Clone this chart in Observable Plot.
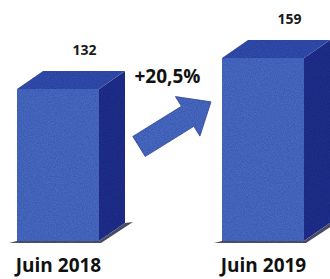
<!DOCTYPE html>
<html><head><meta charset="utf-8">
<script src="https://cdn.jsdelivr.net/npm/d3@7"></script>
<script src="https://cdn.jsdelivr.net/npm/@observablehq/plot@0.6"></script>
<style>body{margin:0;background:#fff;} #chart svg{display:block;}</style>
</head><body><div id="chart"></div>
<script>
const categories = ["Juin 2018", "Juin 2019"];
const values = [132, 159];
const valueLabels = ["132", "159"];
const changeLabel = "+20,5%";

const data = categories.map((c, i) => ({cat: c, value: values[i], label: valueLabels[i]}));

const DX = 26, DY = 18;
const colors = {front: "#4262b9", top: "#2d47a5", side: "#1c2b85", shadow: "#151a48", arrowEdge: "#2c419a"};
const NS = "http://www.w3.org/2000/svg";

function el(name, attrs) {
  const e = document.createElementNS(NS, name);
  for (const k in attrs) e.setAttribute(k, attrs[k]);
  return e;
}
function pts(a) { return a.map(p => p.join(",")).join(" "); }

function box3d(index, scales, vals, dimensions, context, next) {
  const g = next(index, scales, vals, dimensions, context);
  const rects = Array.from(g.querySelectorAll("rect"));
  const wrap = el("g", {});
  const defs = el("defs", {});
  const f = el("filter", {id: "grain", x: "0", y: "0", width: "100%", height: "100%"});
  f.appendChild(el("feTurbulence", {type: "fractalNoise", baseFrequency: "0.85", numOctaves: "2", seed: "4", result: "n"}));
  f.appendChild(el("feColorMatrix", {in: "n", type: "saturate", values: "0", result: "g"}));
  const ct = el("feComponentTransfer", {in: "g", result: "g2"});
  ct.appendChild(el("feFuncA", {type: "linear", slope: "0", intercept: "0.45"}));
  f.appendChild(ct);
  f.appendChild(el("feComposite", {in: "g2", in2: "SourceGraphic", operator: "in", result: "ng"}));
  f.appendChild(el("feBlend", {in: "ng", in2: "SourceGraphic", mode: "overlay"}));
  defs.appendChild(f);
  wrap.appendChild(defs);
  wrap.appendChild(g);
  g.setAttribute("filter", "url(#grain)");
  const geo = rects.map(r => {
    const x = +r.getAttribute("x"), y = +r.getAttribute("y");
    const w = +r.getAttribute("width"), h = +r.getAttribute("height");
    return {r, xl: x, xr: x + w, yt: y, yb: y + h};
  });
  for (const b of geo) {
    const {r, xl, xr, yt, yb} = b;
    g.insertBefore(el("polygon", {fill: colors.shadow, "fill-opacity": 0.85,
      points: pts([[xl - 8, yb + 2], [xr + 2, yb + 2], [xr + DX + 8, yb - DY - 1], [xr + DX, yb - DY], [xr, yb], [xl, yb]])}), r);
    g.appendChild(el("polygon", {fill: colors.top,
      points: pts([[xl, yt], [xl + DX, yt - DY], [xr + DX, yt - DY], [xr, yt]])}));
    g.appendChild(el("polygon", {fill: colors.side,
      points: pts([[xr, yt], [xr + DX, yt - DY], [xr + DX, yb - DY], [xr, yb]])}));
  }
  if (geo.length >= 2) {
    const a = geo[0], b = geo[1];
    const tail = [a.xr + DX + 14, a.yt + 0.378 * (a.yb - a.yt)];
    const tip = [b.xl - 11, b.yt + 0.24 * (b.yb - b.yt)];
    const vx = tip[0] - tail[0], vy = tip[1] - tail[1];
    const L = Math.hypot(vx, vy);
    const u = [vx / L, vy / L], n = [-u[1], u[0]];
    const sw = 11.8, hl = 27.5, hw = 23.3;
    const base = [tip[0] - u[0] * hl, tip[1] - u[1] * hl];
    const P = (p, k) => [p[0] + n[0] * k, p[1] + n[1] * k];
    g.appendChild(el("polygon", {fill: colors.front, stroke: colors.arrowEdge, "stroke-width": 0.8,
      points: pts([P(tail, sw), P(base, sw), P(base, hw), tip, P(base, -hw), P(base, -sw), P(tail, -sw)])}));
    const t = el("text", {x: (tail[0] + tip[0]) / 2 - 7.5, y: tip[1] - 19, "text-anchor": "middle",
      "font-size": 19, "font-weight": "bold", fill: "#111", "font-family": "'Open Sans', sans-serif"});
    t.textContent = changeLabel;
    wrap.appendChild(t);
  }
  return wrap;
}

const chart = Plot.plot({
  width: 330,
  height: 279,
  marginLeft: 17,
  marginRight: 26,
  marginTop: 10.7,
  marginBottom: 38,
  x: {domain: categories, paddingInner: 0.6, paddingOuter: 0},
  y: {domain: [0, 200], axis: null},
  style: {fontFamily: "'Open Sans', sans-serif", background: "#fff", overflow: "visible"},
  marks: [
    Plot.barY(data, {x: "cat", y: "value", fill: colors.front, render: box3d}),
    Plot.text(data, {x: "cat", y: "value", text: "label", dx: DX, dy: -39, fontSize: 14, fontWeight: "bold", fill: "#1a1a1a"}),
    Plot.axisX({tickSize: 0, tickPadding: 16.5, fontSize: 19, fontWeight: "bold", fill: "#111", label: null})
  ]
});
document.getElementById("chart").appendChild(chart);
</script>
</body></html>
